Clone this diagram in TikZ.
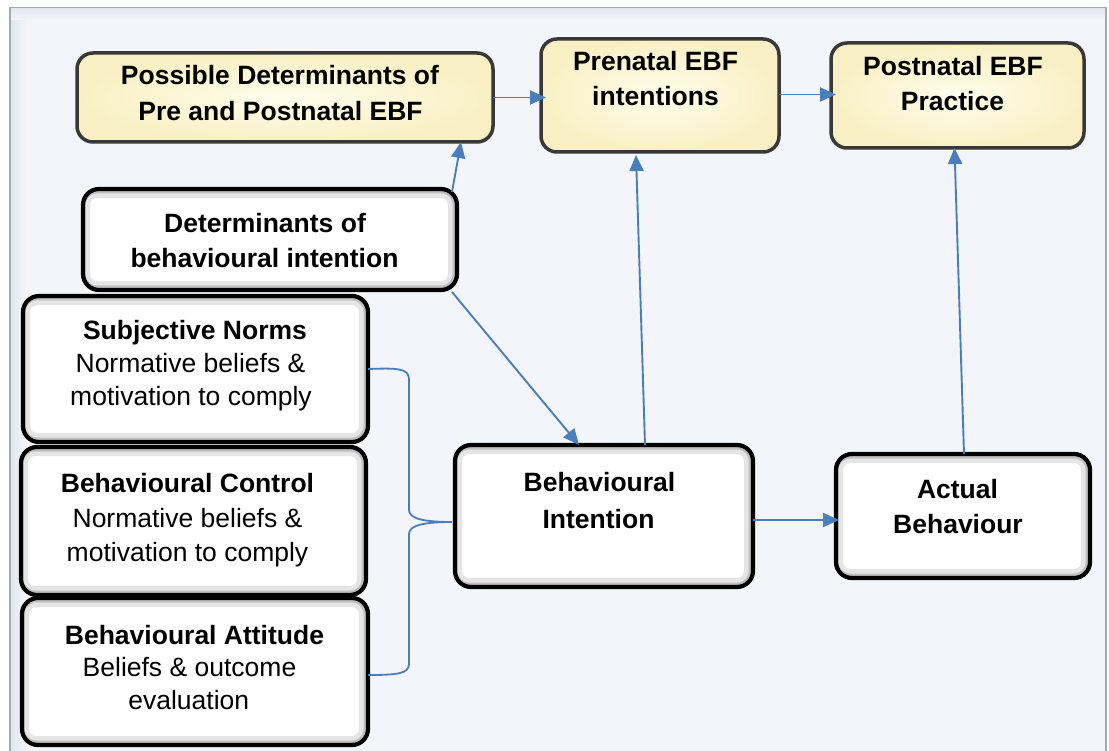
\documentclass[tikz,border=0pt]{standalone}
\usepackage{fontspec}
\setmainfont{Liberation Sans}
\usetikzlibrary{arrows.meta}
\definecolor{bgc}{HTML}{F3F5FA}
\definecolor{bgband}{HTML}{E3E6EE}
\definecolor{arrc}{HTML}{4A7EBB}
\definecolor{ylw}{HTML}{F8F0C4}
\definecolor{ylwin}{HTML}{FFFDEC}
\definecolor{framec}{HTML}{A4A8B0}
\begin{document}
\begin{tikzpicture}[x=1pt,y=-1pt,
  wbox/.style={draw=black, line width=4.2pt, rounded corners=16pt, fill=white,
    inner sep=0pt, outer sep=0pt,
    path picture={
      \draw[black!10, line width=18pt, rounded corners=16pt]
        ([xshift=-2pt]path picture bounding box.south west) rectangle (path picture bounding box.north east);
      \draw[black!25, line width=9pt, rounded corners=16pt]
        ([xshift=-2pt]path picture bounding box.south west) rectangle (path picture bounding box.north east);
    }},
  ybox/.style={draw=black!78, line width=3.5pt, rounded corners=16pt,
    inner color=ylwin, outer color=ylw, inner sep=0pt, outer sep=0pt},
  lbl/.style={anchor=base, inner sep=0pt, font=\fontsize{26.5}{32}\selectfont},
  lblb/.style={lbl, font=\fontsize{26.5}{32}\selectfont\bfseries},
  arr/.style={draw=arrc, line width=1.9pt, -{Triangle[length=16pt,width=14pt]}},
  brc/.style={draw=arrc, line width=1.8pt}
]
\useasboundingbox (0,0) rectangle (1109,751);
% background
\fill[white] (0,0) rectangle (1109,751);
\fill[bgc] (10,7.5) rectangle (1106,751);
\shade[left color=bgband, right color=bgc] (10.5,8) rectangle (26,751);
\shade[top color=bgband, bottom color=bgc] (10.5,8) rectangle (1105.5,20);
\draw[framec, line width=1.3pt] (10,751) -- (10,7.5) -- (1106,7.5) -- (1106,751);

% boxes
\node[ybox, minimum width=416, minimum height=89] (pdbox) at (285,97.5) {};
\node[ybox, minimum width=238, minimum height=113] (prebox) at (660,95.5) {};
\node[ybox, minimum width=253, minimum height=105] (postbox) at (957.5,95.5) {};
\node[wbox, minimum width=374, minimum height=101] (detbox) at (270,239.5) {};
\node[wbox, minimum width=345, minimum height=146] (snbox) at (195.5,369) {};
\node[wbox, minimum width=345, minimum height=148] (bcbox) at (193.5,521) {};
\node[wbox, minimum width=346, minimum height=147] (babox) at (195,671.5) {};
\node[wbox, minimum width=298, minimum height=142] (bibox) at (604,516) {};
\node[wbox, minimum width=254, minimum height=124] (abbox) at (963,516) {};

% texts
\node[lblb] (pd1) at (280,85) {Possible Determinants of};
\node[lblb] (pd2) at (280.5,121) {Pre and Postnatal EBF};
\node[lblb] (pre1) at (655.5,71) {Prenatal EBF};
\node[lblb] (pre2) at (655.5,106) {intentions};
\node[lblb] (post1) at (953,76) {Postnatal EBF};
\node[lblb] (post2) at (952.5,111) {Practice};
\node[lblb] (det1) at (265,233) {Determinants of};
\node[lblb] (det2) at (264.5,268) {behavioural intention};
\node[lblb] (sn1) at (195,340) {Subjective Norms};
\node[lbl] (sn2) at (190.5,373) {Normative beliefs \&};
\node[lbl] (sn3) at (191,406) {motivation to comply};
\node[lblb] (bc1) at (187.5,492) {Behavioural Control};
\node[lbl] (bc2) at (187.5,527) {Normative beliefs \&};
\node[lbl] (bc3) at (187.5,561) {motivation to comply};
\node[lblb] (ba1) at (194.5,644) {Behavioural Attitude};
\node[lbl] (ba2) at (189.5,676) {Beliefs \& outcome};
\node[lbl] (ba3) at (188.8,709) {evaluation};
\node[lblb] (bi1) at (599.5,491) {Behavioural};
\node[lblb] (bi2) at (598.5,528) {Intention};
\node[lblb] (ab1) at (957.5,498) {Actual};
\node[lblb] (ab2) at (958,533) {Behaviour};

% connectors
\draw[arr] (pdbox.east) -- ([xshift=5pt]pdbox.east -| prebox.west);
\draw[arr] ([yshift=1pt]prebox.east) -- ([xshift=5pt,yshift=1pt]prebox.east -| postbox.west);
\draw[arr] ([xshift=-5pt,yshift=-3pt]detbox.north east) -- ([xshift=-32pt]pdbox.south east);
\draw[arr] ([xshift=-5pt,yshift=-2pt]detbox.south east) -- ([xshift=-25pt]bibox.north);
\draw[arr] ([xshift=41pt]bibox.north) -- ([xshift=-24pt,yshift=-3pt]prebox.south);
\draw[arr] ([xshift=1pt]abbox.north) -- ([xshift=-3pt]postbox.south);
\draw[arr] ([yshift=-4pt]bibox.east) -- ([xshift=3pt,yshift=-4pt]bibox.east -| abbox.west);

% brace
\coordinate (bracetip) at ([xshift=-3pt,yshift=-6pt]bibox.west);
\coordinate (baend) at ([yshift=-3.5pt]babox.east);
\draw[brc] (snbox.east) .. controls (396,368) and (409,368) .. (409,379)
  -- (409,510) .. controls (409,519) and (425,522) .. (bracetip)
  .. controls (425,522) and (409,525) .. (409,534)
  -- (409,664) .. controls (409,674) and (396,675) .. (baend);
\end{tikzpicture}
\end{document}
